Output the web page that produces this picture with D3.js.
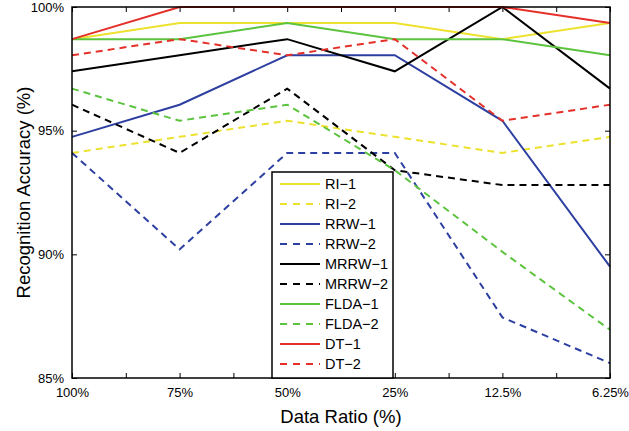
<!DOCTYPE html>
<html>
<head>
<meta charset="utf-8">
<script src="https://cdn.jsdelivr.net/npm/d3@7"></script>
<style>
  body { margin: 0; background: #fff; }
  svg { font-family: "Liberation Sans", Arial, sans-serif; }
</style>
</head>
<body>
<div id="chart"></div>
<script>
// categories on the x axis
var ratios = ["100%", "75%", "50%", "25%", "12.5%", "6.25%"];
var yTicks = [85, 90, 95, 100];

// accuracy values (%)
var ri1   = [98.7, 99.35, 99.35, 99.35, 98.7, 99.35];
var ri2   = [94.1, 94.75, 95.4, 94.75, 94.1, 94.75];
var rrw1  = [94.75, 96.05, 98.05, 98.05, 95.4, 89.5];
var rrw2  = [94.1, 90.2, 94.1, 94.1, 87.45, 85.6];
var mrrw1 = [97.4, 98.05, 98.7, 97.4, 100, 96.7];
var mrrw2 = [96.05, 94.1, 96.7, 93.4, 92.8, 92.8];
var flda1 = [98.7, 98.7, 99.35, 98.7, 98.7, 98.05];
var flda2 = [96.7, 95.4, 96.05, 93.4, 90.1, 86.95];
var dt1   = [98.7, 100, 100, 100, 100, 99.35];
var dt2   = [98.05, 98.7, 98.05, 98.7, 95.4, 96.05];

var seriesNames = ["RI\u22121", "RI\u22122", "RRW\u22121", "RRW\u22122", "MRRW\u22121",
                   "MRRW\u22122", "FLDA\u22121", "FLDA\u22122", "DT\u22121", "DT\u22122"];
var seriesValues = [ri1, ri2, rrw1, rrw2, mrrw1, mrrw2, flda1, flda2, dt1, dt2];
var colors = ["#ece22e", "#ece22e", "#2d3fa0", "#2d3fa0", "#000000",
              "#000000", "#5cc33e", "#5cc33e", "#e5302a", "#e5302a"];

var series = seriesNames.map(function (n, i) {
    return { name: n, values: seriesValues[i], color: colors[i], dashed: i % 2 == 1 };
});

var width = 629, height = 431;
var margin = { left: 72, right: 19, top: 7, bottom: 53 };
var x0 = margin.left, x1 = width - margin.right;
var y0 = height - margin.bottom, y1 = margin.top;

// index scale so minor ticks can sit between categories
var x = d3.scaleLinear().domain([0, ratios.length - 1]).range([x0, x1]);
var y = d3.scaleLinear().domain([85, 100]).range([y0, y1]);

var svg = d3.select("#chart").append("svg")
    .attr("width", width)
    .attr("height", height);

var xTickVals = d3.range(0, ratios.length - 0.99, 0.5);

function styleAxis(g) {
    g.select(".domain").remove();
    g.selectAll(".tick line").attr("stroke", "#000").attr("stroke-width", 1);
    g.selectAll(".tick text").attr("fill", "#000").style("font-size", "13px");
}

// bottom axis with labels
svg.append("g")
    .attr("transform", `translate(0,${y0})`)
    .call(d3.axisBottom(x).tickValues(xTickVals)
        .tickFormat(i => Number.isInteger(i) ? ratios[i] : "")
        .tickSizeInner(-5).tickSizeOuter(0).tickPadding(10))
    .call(styleAxis);

// top axis, ticks only
svg.append("g")
    .attr("transform", `translate(0,${y1})`)
    .call(d3.axisTop(x).tickValues(xTickVals).tickFormat("")
        .tickSizeInner(-5).tickSizeOuter(0))
    .call(styleAxis);

// left axis
svg.append("g")
    .attr("transform", `translate(${x0},0)`)
    .call(d3.axisLeft(y).tickValues(yTicks).tickFormat(d => d + "%")
        .tickSizeInner(-5).tickSizeOuter(0).tickPadding(8))
    .call(styleAxis);

// right axis
svg.append("g")
    .attr("transform", `translate(${x1},0)`)
    .call(d3.axisRight(y).tickValues(yTicks).tickFormat("")
        .tickSizeInner(-5).tickSizeOuter(0))
    .call(styleAxis);

var line = d3.line()
    .x((d, i) => x(i))
    .y(d => y(d));

svg.append("g")
    .selectAll("path")
    .data(series)
    .enter().append("path")
    .attr("d", d => line(d.values))
    .attr("fill", "none")
    .attr("stroke", d => d.color)
    .attr("stroke-width", 2)
    .attr("stroke-dasharray", d => d.dashed ? "7,5" : null);

// plot box
svg.append("rect")
    .attr("x", x0).attr("y", y1)
    .attr("width", x1 - x0).attr("height", y0 - y1)
    .attr("fill", "none")
    .attr("stroke", "#000")
    .attr("stroke-width", 1.5);

// legend
var lg = svg.append("g").attr("transform", "translate(272,172)");
lg.append("rect")
    .attr("width", 121).attr("height", 206)
    .attr("fill", "#fff")
    .attr("stroke", "#000")
    .attr("stroke-width", 1.5);

var item = lg.selectAll("g.item")
    .data(series)
    .enter().append("g")
    .attr("class", "item")
    .attr("transform", (d, i) => `translate(0,${12 + i * 20})`);

item.append("line")
    .attr("x1", 8).attr("x2", 48)
    .attr("stroke", d => d.color)
    .attr("stroke-width", 2)
    .attr("stroke-dasharray", d => d.dashed ? "7,6" : null);

item.append("text")
    .attr("x", 53)
    .attr("dy", "0.36em")
    .style("font-size", "14.5px")
    .text(d => d.name);

// axis titles
svg.append("text")
    .attr("x", (x0 + x1) / 2)
    .attr("y", 423)
    .attr("text-anchor", "middle")
    .style("font-size", "18.5px")
    .text("Data Ratio (%)");

svg.append("text")
    .attr("transform", `translate(30,${(y0 + y1) / 2}) rotate(-90)`)
    .attr("text-anchor", "middle")
    .style("font-size", "18.5px")
    .text("Recognition Accuracy (%)");
</script>
</body>
</html>
